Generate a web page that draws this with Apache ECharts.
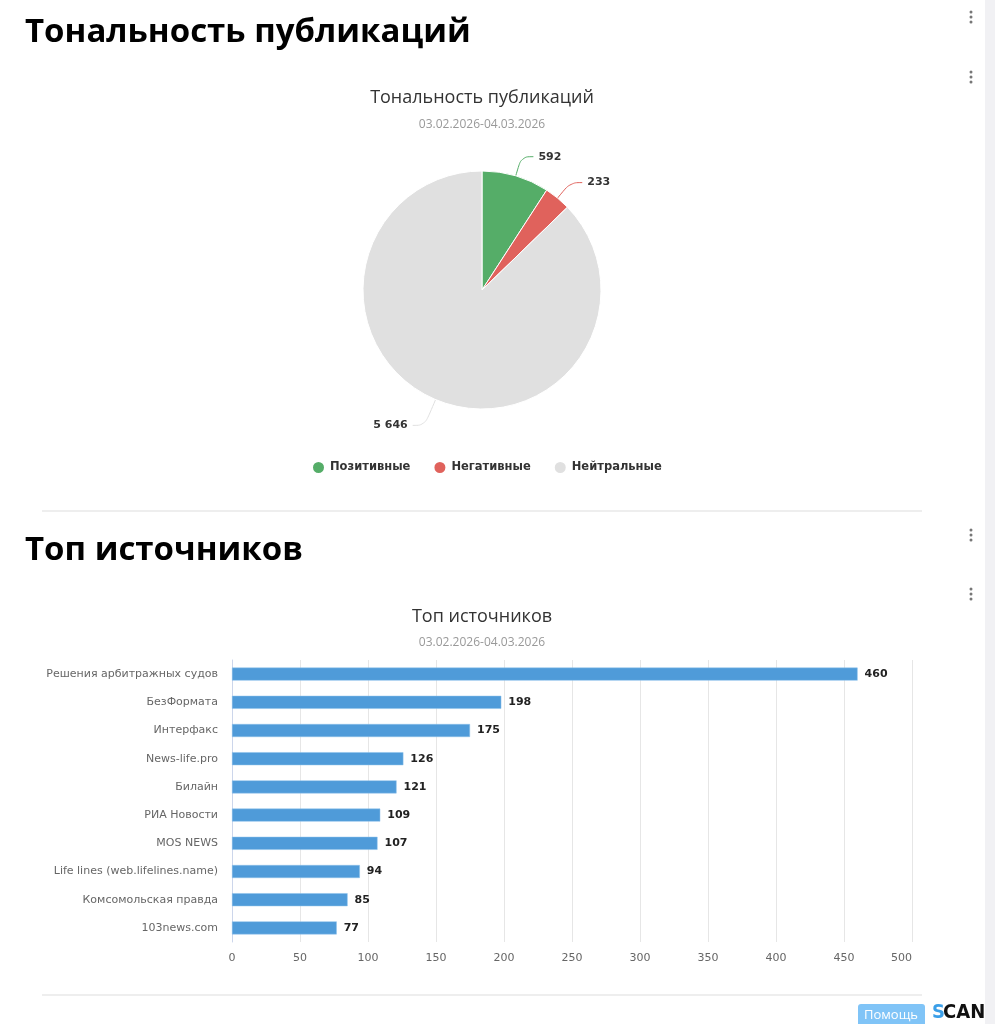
<!DOCTYPE html>
<html><head><meta charset="utf-8">
<script src="https://cdn.jsdelivr.net/npm/echarts@6/dist/echarts.min.js"></script>
<style>html,body{margin:0;padding:0;background:#fff}#c{width:995px;height:1024px}</style>
</head><body><div id="c"></div>
<script>
const sentimentNames = ['Позитивные', 'Негативные', 'Нейтральные'];
const sentimentValues = [592, 233, 5646];
const sentimentColors = ['#55ad68', '#e0625c', '#e0e0e0'];
const sources = ['Решения арбитражных судов', 'БезФормата', 'Интерфакс', 'News-life.pro', 'Билайн', 'РИА Новости', 'MOS NEWS', 'Life lines (web.lifelines.name)', 'Комсомольская правда', '103news.com'];
const sourceValues = [460, 198, 175, 126, 121, 109, 107, 94, 85, 77];
const dateRange = '03.02.2026-04.03.2026';

function fmt(v){ return String(v).replace(/\B(?=(\d{3})+(?!\d))/g, ' '); }

const chart = echarts.init(document.getElementById('c'), null, {renderer:'canvas'});
function dots(y){
  return [0,5,10].map(d => ({type:'circle', shape:{cx:971, cy:y+d, r:1.5}, style:{fill:'#777'}}));
}
const graphics = [
  {type:'rect', shape:{x:985, y:0, width:10, height:1024}, style:{fill:'#f1f1f4'}},
  {type:'text', x:25, y:33, style:{text:'Тональность публикаций', font:'bold 33px "Open Sans"', fill:'#000', verticalAlign:'middle'}},
  {type:'text', x:25, y:551, style:{text:'Топ источников', font:'bold 33px "Open Sans"', fill:'#000', verticalAlign:'middle'}},
  {type:'text', x:482, y:98, style:{text:'Тональность публикаций', font:'18px "Open Sans"', fill:'#333', align:'center', verticalAlign:'middle'}},
  {type:'text', x:482, y:125, style:{text:dateRange, font:'12px "Open Sans"', fill:'#999', align:'center', verticalAlign:'middle'}},
  {type:'text', x:482, y:617, style:{text:'Топ источников', font:'18px "Open Sans"', fill:'#333', align:'center', verticalAlign:'middle'}},
  {type:'text', x:482, y:643, style:{text:dateRange, font:'12px "Open Sans"', fill:'#999', align:'center', verticalAlign:'middle'}},
  {type:'line', shape:{x1:42, y1:511, x2:922, y2:511}, style:{stroke:'#e8e8e8', lineWidth:1.5}},
  {type:'line', shape:{x1:42, y1:995, x2:922, y2:995}, style:{stroke:'#e8e8e8', lineWidth:1.5}},
  {type:'rect', shape:{x:858, y:1004, width:67, height:22, r:3}, style:{fill:'#80c4f7'}},
  {type:'text', x:891, y:1015, style:{text:'Помощь', font:'13px "Open Sans"', fill:'#fff', align:'center', verticalAlign:'middle'}},
  {type:'text', x:932, y:1013, style:{text:'S', font:'bold 20px "DejaVu Sans Condensed"', fill:'#3b9fe8', verticalAlign:'middle'}},
  {type:'text', x:943, y:1013, style:{text:'CAN', font:'bold 20px "DejaVu Sans Condensed"', fill:'#111', verticalAlign:'middle'}}
].concat(dots(12), dots(72), dots(530), dots(589));

chart.setOption({
  animation:false,
  graphic:graphics,
  legend:{
    data:sentimentNames, left:306, top:455, icon:'circle', itemWidth:13, itemHeight:13, itemGap:22,
    textStyle:{fontFamily:'DejaVu Sans', fontWeight:'bold', fontSize:11.5, color:'#333'}
  },
  grid:{left:232, right:83, top:660, bottom:82},
  xAxis:{
    type:'value', min:0, max:500, interval:50,
    axisLine:{show:false}, axisTick:{show:false},
    splitLine:{lineStyle:{color:'#e6e6e6'}},
    axisLabel:{color:'#666', fontFamily:'DejaVu Sans', fontSize:11, margin:11, alignMaxLabel:'right'}
  },
  yAxis:{
    type:'category', data:sources, inverse:true,
    axisLine:{lineStyle:{color:'#ccd6eb'}}, axisTick:{show:false},
    axisLabel:{color:'#666', fontFamily:'DejaVu Sans', fontSize:11, margin:14}
  },
  series:[
    {
      type:'pie', center:[482,290], radius:119, startAngle:90, clockwise:true,
      data:sentimentNames.map((n,i)=>({name:n, value:sentimentValues[i], itemStyle:{color:sentimentColors[i]},
        labelLine: i===2 ? {length:28, length2:12} : undefined})),
      itemStyle:{borderColor:'#fff', borderWidth:1},
      label:{formatter:p=>fmt(p.value), fontFamily:'DejaVu Sans', fontWeight:'bold', fontSize:11, color:'#333'},
      labelLine:{length:20, length2:12, smooth:0.4, lineStyle:{width:1}}
    },
    {
      type:'bar', data:sourceValues, barWidth:13,
      itemStyle:{color:'#4f9bd9', borderColor:'#8cc0ea', borderWidth:0.5},
      label:{show:true, position:'right', distance:7, fontFamily:'DejaVu Sans', fontWeight:'bold', fontSize:11, color:'#222'}
    }
  ]
});
</script></body></html>
